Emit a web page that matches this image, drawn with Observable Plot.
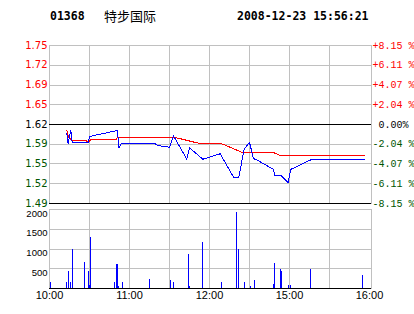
<!DOCTYPE html>
<html><head><meta charset="utf-8">
<script src="https://cdn.jsdelivr.net/npm/d3@7"></script>
<script src="https://cdn.jsdelivr.net/npm/@observablehq/plot@0.6"></script>
<style>
html,body{margin:0;padding:0;background:#fff;}
#wrap{position:relative;width:414px;height:314px;overflow:hidden;background:#fff;}
.hd{position:absolute;top:9px;font:bold 11.5px/14px "DejaVu Sans Mono",monospace;color:#000;white-space:pre;}
.cn{position:absolute;top:8px;left:104px;font:13px/16px "Noto Sans CJK SC",sans-serif;color:#000;}
#wrap svg{position:absolute;left:0;overflow:visible;background:transparent !important;}
#wrap svg line,#wrap svg path,#wrap svg rect{shape-rendering:crispEdges;}
#wrap svg text{white-space:pre;}
</style></head><body>
<div id="wrap">
<div class="hd" style="left:50px">01368</div>
<div class="cn">特步国际</div>
<div class="hd" style="left:237px">2008-12-23 15:56:21</div>
</div>
<script>
// ---- data ----
const prevClose = 1.62;
const pctTicks = [-8.15, -6.11, -4.07, -2.04, 0, 2.04, 4.07, 6.11, 8.15];
const priceLabels = ["1.49","1.52","1.55","1.59","1.62","1.65","1.69","1.72","1.75"];
const pctLabels = ["-8.15 %","-6.11 %","-4.07 %","-2.04 %"," 0.00%","+2.04 %","+4.07 %","+6.11 %","+8.15 %"];
const labelColors = ["#005500","#005500","#005500","#005500","#000000","#ff0000","#ff0000","#ff0000","#ff0000"];

const timeTicks = ["10:00","11:00","12:00","15:00","16:00"];
const gridTimes = ["10:00","10:30","11:00","11:30","12:00","12:30","15:00","15:30"];

const priceTimes = ["10:13","10:14","10:15","10:16","10:17","10:29","10:30","10:51","10:52","10:54","11:19","11:21","11:30","11:33","11:43","11:45","11:55","12:08","12:18","12:22","12:26","12:30","14:33","14:37","14:48","14:49","14:54","14:55","14:59","15:01","15:16","15:56"];
const prices =     [1.605, 1.588, 1.600, 1.610, 1.590, 1.590, 1.600, 1.610, 1.581, 1.589, 1.588, 1.585, 1.582, 1.601, 1.562, 1.581, 1.562, 1.571, 1.532, 1.532, 1.579, 1.590, 1.563, 1.559, 1.545, 1.534, 1.534, 1.532, 1.523, 1.545, 1.561, 1.561];

const avgTimes = ["10:13","10:14","10:15","10:17","10:27","10:28","10:30","10:31","10:50","10:51","11:34","11:53","12:09","12:25","14:48","14:53","15:56"];
const avgPrices = [1.610, 1.601, 1.597, 1.594, 1.594, 1.592, 1.592, 1.595, 1.595, 1.5985, 1.5985, 1.588, 1.588, 1.573, 1.573, 1.5685, 1.5685];

const volTimes = ["10:01","10:13","10:14","10:16","10:17","10:26","10:29","10:30","10:31","10:49","10:50","10:51","10:52","10:55","11:15","11:31","11:33","11:44","11:45","11:55","12:09","12:20","12:22","12:26","14:31","14:34","14:48","14:49","14:53","14:54","14:59","15:01","15:16","15:55"];
const volumes =  [160, 160, 440, 140, 1000, 670, 440, 80, 1300, 140, 620, 620, 60, 160, 240, 190, 140, 870, 60, 1170, 140, 1930, 1000, 140, 60, 210, 110, 640, 490, 440, 80, 80, 490, 340];

const volTicks = [500, 1000, 1500, 2000];
const volLabels = ["500","1000","1500","2000"];

// trading-minute index (lunch break 12:30-14:30 removed)
function tmin(t) {
  const [h, m] = t.split(":").map(Number);
  let v = h * 60 + m - 600;
  if (v >= 270) v -= 120;
  return v;
}

const priceData = priceTimes.map((t, i) => ({x: tmin(t), y: prices[i]}));
const avgData = avgTimes.map((t, i) => ({x: tmin(t), y: avgPrices[i]}));
const volData = volTimes.map((t, i) => ({x: tmin(t), v: volumes[i]}));
const tickVals = pctTicks.map(p => prevClose * (1 + p / 100));
const lo = tickVals[0], hi = tickVals[tickVals.length - 1];
const gridMins = gridTimes.map(tmin);

const grid = "#c0c0c0";
const xScale = {domain: [0, 240], range: [49, 369], axis: null};

const price = Plot.plot({
  width: 414, height: 210,
  marginLeft: 49, marginRight: 43, marginTop: 45, marginBottom: 7,
  x: xScale,
  y: {domain: [lo, hi], axis: null},
  color: {type: "identity"},
  marks: [
    Plot.ruleY(tickVals, {stroke: grid}),
    Plot.ruleX(gridMins, {stroke: grid}),
    Plot.frame({stroke: grid}),
    Plot.ruleY([prevClose, lo], {stroke: "#000"}),
    Plot.line(avgData, {x: "x", y: "y", stroke: "#ff0000", strokeWidth: 1}),
    Plot.line(priceData, {x: "x", y: "y", stroke: "#0000ff", strokeWidth: 1}),
    Plot.text(tickVals, {y: d => d, text: (d, i) => priceLabels[i], fill: (d, i) => labelColors[i],
      frameAnchor: "left", textAnchor: "end", dx: -2, fontFamily: "DejaVu Sans", fontSize: 10}),
    Plot.text(tickVals, {y: d => d, text: (d, i) => pctLabels[i], fill: (d, i) => labelColors[i],
      frameAnchor: "right", textAnchor: "start", dx: 1, fontFamily: "Liberation Mono", fontSize: 10})
  ]
});
price.style.top = "0px";

const vol = Plot.plot({
  width: 414, height: 109,
  marginLeft: 49, marginRight: 43, marginTop: 4, marginBottom: 26,
  x: xScale,
  y: {domain: [0, 2000], axis: null},
  marks: [
    Plot.ruleY(volTicks, {stroke: grid}),
    Plot.ruleX(gridMins, {stroke: grid}),
    Plot.frame({stroke: grid}),
    Plot.ruleY([0], {stroke: "#000"}),
    Plot.ruleX(volData, {x: "x", y1: 0, y2: "v", stroke: "#0000ff", strokeWidth: 1}),
    Plot.text(volTicks, {y: d => d, text: (d, i) => volLabels[i], frameAnchor: "left", textAnchor: "end",
      dx: -2, dy: 4, fill: "#000", fontFamily: "Liberation Sans", fontSize: 9.5}),
    Plot.text(timeTicks.map(tmin), {x: d => d, text: (d, i) => timeTicks[i], frameAnchor: "bottom",
      dy: 10, fill: "#000", fontFamily: "Liberation Sans", fontSize: 11})
  ]
});
vol.style.top = "205px";

const wrap = document.getElementById("wrap");
wrap.appendChild(price);
wrap.appendChild(vol);
</script>
</body></html>
